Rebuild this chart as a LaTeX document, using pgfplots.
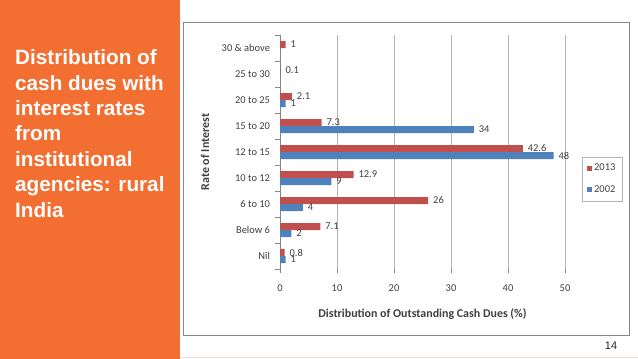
\documentclass[border=0pt]{standalone}
\usepackage{pgfplots}
\pgfplotsset{compat=1.18}
\usepackage{fontspec}
\setmainfont{Carlito}
\newfontfamily\arialfont{Liberation Sans}
\definecolor{orangebg}{RGB}{243,110,49}
\definecolor{red13}{RGB}{192,80,77}
\definecolor{blue02}{RGB}{79,129,189}
\definecolor{txt}{RGB}{64,64,64}
\definecolor{gridc}{RGB}{180,180,180}
\definecolor{axc}{RGB}{134,134,134}
\begin{document}
\begin{tikzpicture}
\path[use as bounding box, fill=white] (0bp,0bp) rectangle (638bp,359bp);
\fill[orangebg] (0bp,0bp) rectangle (180bp,359bp);
\node[anchor=north west, inner sep=0pt, align=left, text=white,
  font=\arialfont\bfseries\fontsize{20.8}{25.5}\selectfont] at (15bp,309.5bp)
  {Distribution of\\cash dues with\\interest rates\\from\\institutional\\agencies: rural\\India};
\draw[color=axc, line width=0.8bp] (183bp,24bp) rectangle (629bp,337bp);
\draw[color={rgb,255:red,250;green,222;blue,212}, line width=0.8bp] (180bp,1.5bp) -- (638bp,1.5bp);
\node[font=\arialfont\fontsize{11}{13}\selectfont, text=black!85] at (611bp,13bp) {14};
\begin{axis}[
  at={(280bp,90bp)}, anchor=south west, scale only axis,
  width=285bp, height=234bp,
  xbar, bar width=7bp, clip=false,
  xmin=0, xmax=50, ymin=-0.5, ymax=8.5,
  xtick={0,10,...,50},
  ytick={0,...,8},
  yticklabels={Nil, Below 6, 6 to 10, 10 to 12, 12 to 15, 15 to 20, 20 to 25, 25 to 30, 30 \& above},
  minor ytick={-0.5,0.5,...,8.5},
  axis x line*=bottom, axis y line*=left,
  x axis line style={draw=none}, y axis line style={axc, -},
  tick align=outside, major tick length=4bp, minor tick length=5bp,
  major x tick style={axc}, major y tick style={draw=none}, minor y tick style={axc},
  xmajorgrids, major grid style={gridc, line width=0.5bp},
  /pgf/number format/assume math mode=true,
  ticklabel style={font=\fontsize{10.5}{12}\selectfont, text=txt},
  xticklabel style={yshift=-8bp},
  yticklabel style={xshift=-2.5bp},
  xlabel={Distribution of Outstanding Cash Dues (\%)},
  ylabel={Rate of Interest},
  xlabel style={font=\fontsize{12}{14}\selectfont\bfseries, text=txt, at={(axis description cs:0.5,-0.192)}, anchor=center},
  ylabel style={font=\fontsize{12}{14}\selectfont\bfseries, text=txt, at={(axis description cs:-0.263,0.5)}, anchor=center},
  nodes near coords,
  every node near coord/.append style={font=\fontsize{10.5}{12}\selectfont, text=txt, anchor=west, xshift=1.5bp},
  legend style={at={(axis description cs:1.0596,0.4786)}, anchor=north west, draw=gridc,
    font=\fontsize{10.5}{12}\selectfont, text=txt, row sep=9bp, inner xsep=5bp, inner ysep=5bp},
  legend cell align=left,
]
\addplot[fill=red13, draw=none, bar shift=3.5bp,
  legend image code/.code={\fill[red13] (0bp,-2.5bp) rectangle (5bp,2.5bp);}]
  coordinates {(0.8,0) (7.1,1) (26,2) (12.9,3) (42.6,4) (7.3,5) (2.1,6) (0.1,7) (1,8)};
\addplot[fill=blue02, draw=none, bar shift=-3.5bp,
  legend image code/.code={\fill[blue02] (0bp,-2.5bp) rectangle (5bp,2.5bp);}]
  coordinates {(1,0) (2,1) (4,2) (9,3) (48,4) (34,5) (1,6)};
\legend{2013,2002}
\end{axis}
\end{tikzpicture}
\end{document}
